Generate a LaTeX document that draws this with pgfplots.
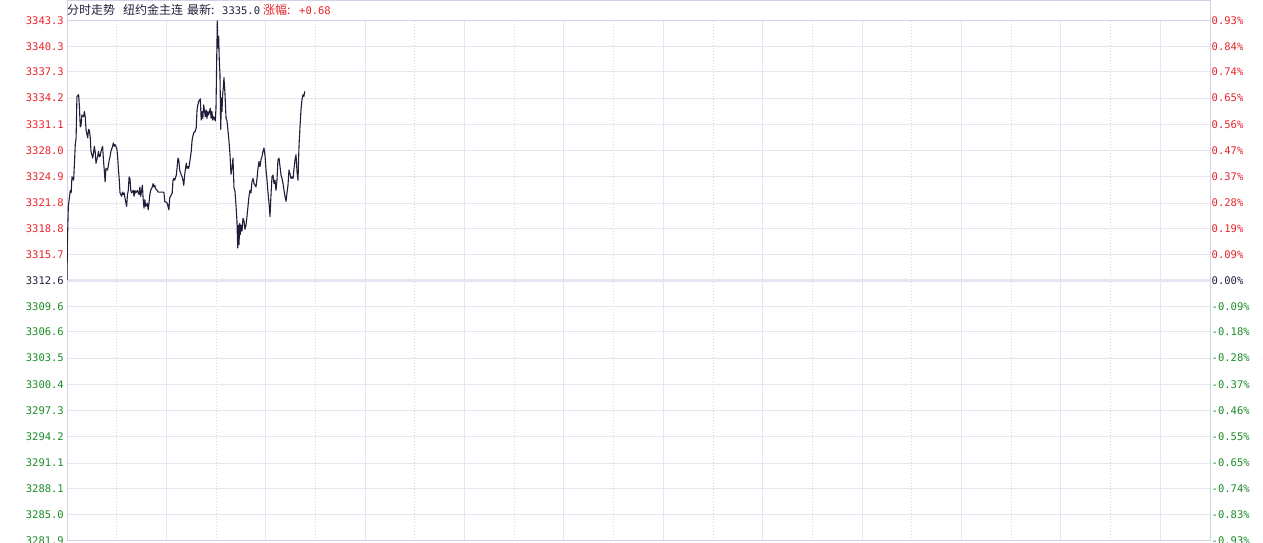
\documentclass[border=0pt]{standalone}
\usepackage{pgfplots}
\pgfplotsset{compat=1.18}
\usepackage{fontspec}
\setmainfont{DejaVu Sans}
\newfontfamily\monof{DejaVu Sans Mono}
\newfontfamily\cjk{Noto Sans CJK SC}

\definecolor{upred}{RGB}{232,34,42}
\definecolor{dngreen}{RGB}{26,140,40}
\definecolor{navy}{RGB}{32,32,60}
\definecolor{gridc}{RGB}{230,230,242}
\definecolor{framec}{RGB}{210,210,230}
\definecolor{dotc}{RGB}{212,212,224}
\definecolor{linec}{RGB}{30,30,58}

\newcommand{\up}[1]{\textcolor{upred}{#1}}
\newcommand{\dn}[1]{\textcolor{dngreen}{#1}}
\newcommand{\eq}[1]{\textcolor{navy}{#1}}

% minute of session, price
\pgfplotstableread{
m v
0 3312.7
0.5 3317.1
1.6 3321.4
2.8 3322.4
4 3323.3
5 3323.0
6 3324.9
8 3324.5
9 3326.5
10 3328.7
11 3329.5
12 3334.4
14 3334.6
15 3333.2
16 3330.8
17 3331.0
18 3332.2
20 3332.0
21 3332.6
22 3332.0
23 3330.4
25 3329.5
26 3330.5
27 3330.4
28 3329.6
29 3327.9
31 3327.1
32 3327.7
33 3328.5
34 3327.9
35 3326.5
37 3327.3
38 3327.9
39 3327.3
40 3327.3
41 3327.9
43 3328.5
44 3326.9
45 3325.7
46 3324.3
47 3325.9
49 3325.7
50 3326.3
51 3326.9
52 3327.3
53 3327.9
55 3328.5
56 3328.9
57 3328.5
58 3328.7
60 3328.3
61 3327.5
62 3325.9
63 3324.7
64 3323.0
66 3322.6
67 3323.1
68 3322.8
69 3323.0
70 3322.4
72 3321.4
73 3322.8
74 3323.3
75 3324.9
76 3324.7
77 3323.3
78 3323.0
80 3323.3
81 3322.6
82 3323.3
83 3323.0
85 3323.3
86 3323.0
87 3322.8
88 3323.7
89 3322.6
91 3323.9
92 3322.2
93 3321.2
94 3322.2
95 3321.4
97 3321.8
98 3321.0
99 3321.8
100 3322.8
101 3323.3
103 3323.7
104 3324.1
105 3323.7
106 3323.9
107 3323.5
109 3323.3
110 3323.1
117 3323.1
118 3322.0
121 3321.8
122 3321.4
123 3321.0
124 3322.4
126 3322.8
127 3323.0
128 3324.5
129 3324.7
130 3324.5
132 3325.1
133 3326.1
134 3327.1
135 3326.9
136 3325.7
138 3325.1
139 3324.9
140 3324.5
141 3323.9
142 3325.1
144 3326.5
145 3325.9
146 3326.1
147 3325.9
148 3326.5
150 3327.9
151 3329.2
152 3329.7
153 3330.1
155 3330.3
156 3330.7
157 3332.8
158 3333.4
159 3333.8
161 3334.1
162 3331.6
163 3332.6
164 3331.8
165 3333.4
167 3332.0
168 3332.8
169 3331.8
170 3332.6
171 3332.2
173 3333.0
174 3331.8
175 3332.6
176 3331.6
177 3332.0
179 3331.5
179.9 3333.0
180.7 3338.5
181.5 3343.3
182.3 3340.1
183.1 3341.5
183.9 3338.5
184.7 3337.0
185.6 3330.5
186.4 3334.2
187.1 3332.6
187.9 3334.6
188.7 3335.4
189.5 3336.6
190.8 3334.6
192 3331.8
193.2 3331.5
194.4 3330.3
195.6 3329.1
196.8 3327.5
198 3325.2
199.2 3325.9
200.4 3327.1
201.6 3323.6
202.8 3323.2
204 3321.6
205.2 3319.7
206.1 3316.5
206.8 3319.2
207.7 3316.9
208.5 3319.4
209.2 3318.1
210.1 3319.2
211.3 3318.5
212.5 3320.0
213.7 3319.7
214.9 3318.7
216.1 3319.2
217.3 3320.2
218.5 3321.4
219.7 3322.6
220.9 3323.3
222.1 3323.0
223.3 3324.3
224.6 3324.7
225.8 3324.1
227 3323.9
228.2 3323.7
229.4 3324.7
230.6 3325.9
231.8 3326.7
233 3326.1
234.2 3326.9
235.4 3327.3
236.6 3327.9
237.8 3328.3
239 3327.5
240.3 3325.7
241.5 3324.5
242.7 3323.0
243.9 3321.8
245.1 3320.2
246.3 3322.8
247.5 3324.9
248.7 3325.1
249.9 3324.1
251.1 3324.5
252.3 3323.3
253.5 3324.5
254.7 3326.9
256 3327.1
257.2 3326.1
258.4 3325.1
259.6 3324.7
260.8 3324.1
262 3323.3
263.2 3322.6
264.4 3322.0
265.6 3323.0
266.8 3323.9
268 3325.7
269.2 3325.3
270.4 3324.7
271.6 3324.9
272.9 3324.7
274.1 3325.9
275.3 3326.9
276.5 3327.5
277.7 3325.5
278.9 3324.5
280.1 3328.5
281.3 3330.8
282.5 3332.8
283.7 3334.0
284.9 3334.6
286.1 3334.4
287 3335.0
}\pricedata

\pgfplotsset{
  chartbase/.style={
    at={(67pt,2pt)}, anchor=south west,
    width=1143pt, height=520pt, scale only axis,
    xmin=0, xmax=1380, ymin=3281.9, ymax=3343.3,
    major tick length=0pt, minor tick length=0pt,
    ytick={3281.9,3285.0,3288.1,3291.1,3294.2,3297.3,3300.4,3303.5,3306.6,3309.6,3312.6,3315.7,3318.8,3321.8,3324.9,3328.0,3331.1,3334.2,3337.3,3340.3,3343.3},
    yticklabel style={font=\monof\fontsize{10.5}{11}\selectfont, inner sep=0pt},
  },
}

\begin{document}
\begin{tikzpicture}
\useasboundingbox (0,0) rectangle (1263pt,543pt);

% frame lines above the plot
\draw[framec, line width=1pt] (67pt,542.5pt) -- (1210pt,542.5pt);
\draw[framec, line width=1pt] (67pt,543pt) -- (67pt,522pt);
\draw[framec, line width=1pt] (1210pt,543pt) -- (1210pt,522pt);

\begin{axis}[
  chartbase,
  axis line style={draw=framec, line width=1pt},
  xtick={120,240,...,1320}, minor xtick={60,180,...,1260},
  xticklabels={},
  xmajorgrids, xminorgrids, ymajorgrids,
  major x grid style={gridc, line width=1pt},
  minor x grid style={dotc, line width=0.8pt, dash pattern=on 1pt off 2pt},
  major y grid style={gridc, line width=1pt},
  extra y ticks={3312.6}, extra y tick labels={},
  extra y tick style={ymajorgrids=true, major y grid style={gridc, line width=3pt}},
  yticklabel style={anchor=east, xshift=-3pt},
  yticklabels={\dn{3281.9},\dn{3285.0},\dn{3288.1},\dn{3291.1},\dn{3294.2},\dn{3297.3},\dn{3300.4},\dn{3303.5},\dn{3306.6},\dn{3309.6},\eq{3312.6},\up{3315.7},\up{3318.8},\up{3321.8},\up{3324.9},\up{3328.0},\up{3331.1},\up{3334.2},\up{3337.3},\up{3340.3},\up{3343.3}},
]
\addplot[linec, line width=1.1pt, line join=round] table[x=m, y=v] {\pricedata};
\end{axis}

\begin{axis}[
  chartbase,
  axis x line=none,
  axis y line*=right,
  axis line style={draw=framec, line width=1pt, -},
  yticklabel style={anchor=west, xshift=1.5pt},
  yticklabels={\dn{-0.93\%},\dn{-0.83\%},\dn{-0.74\%},\dn{-0.65\%},\dn{-0.55\%},\dn{-0.46\%},\dn{-0.37\%},\dn{-0.28\%},\dn{-0.18\%},\dn{-0.09\%},\eq{0.00\%},\up{0.09\%},\up{0.19\%},\up{0.28\%},\up{0.37\%},\up{0.47\%},\up{0.56\%},\up{0.65\%},\up{0.74\%},\up{0.84\%},\up{0.93\%}},
]
\end{axis}

% header line
\begin{scope}[every node/.style={anchor=base west, inner sep=0pt}]
\node[font=\cjk\fontsize{12}{12}\selectfont, text=navy] at (67pt,528pt) {分时走势};
\node[font=\cjk\fontsize{12}{12}\selectfont, text=navy] at (123pt,528pt) {纽约金主连};
\node[font=\cjk\fontsize{12}{12}\selectfont, text=navy] at (187pt,528pt) {最新:};
\node[font=\monof\fontsize{10.5}{11}\selectfont, text=navy] at (222pt,528pt) {3335.0};
\node[font=\cjk\fontsize{12}{12}\selectfont, text=upred] at (263pt,528pt) {涨幅:};
\node[font=\monof\fontsize{10.5}{11}\selectfont, text=upred] at (299pt,528pt) {+0.68};
\end{scope}
\end{tikzpicture}
\end{document}
